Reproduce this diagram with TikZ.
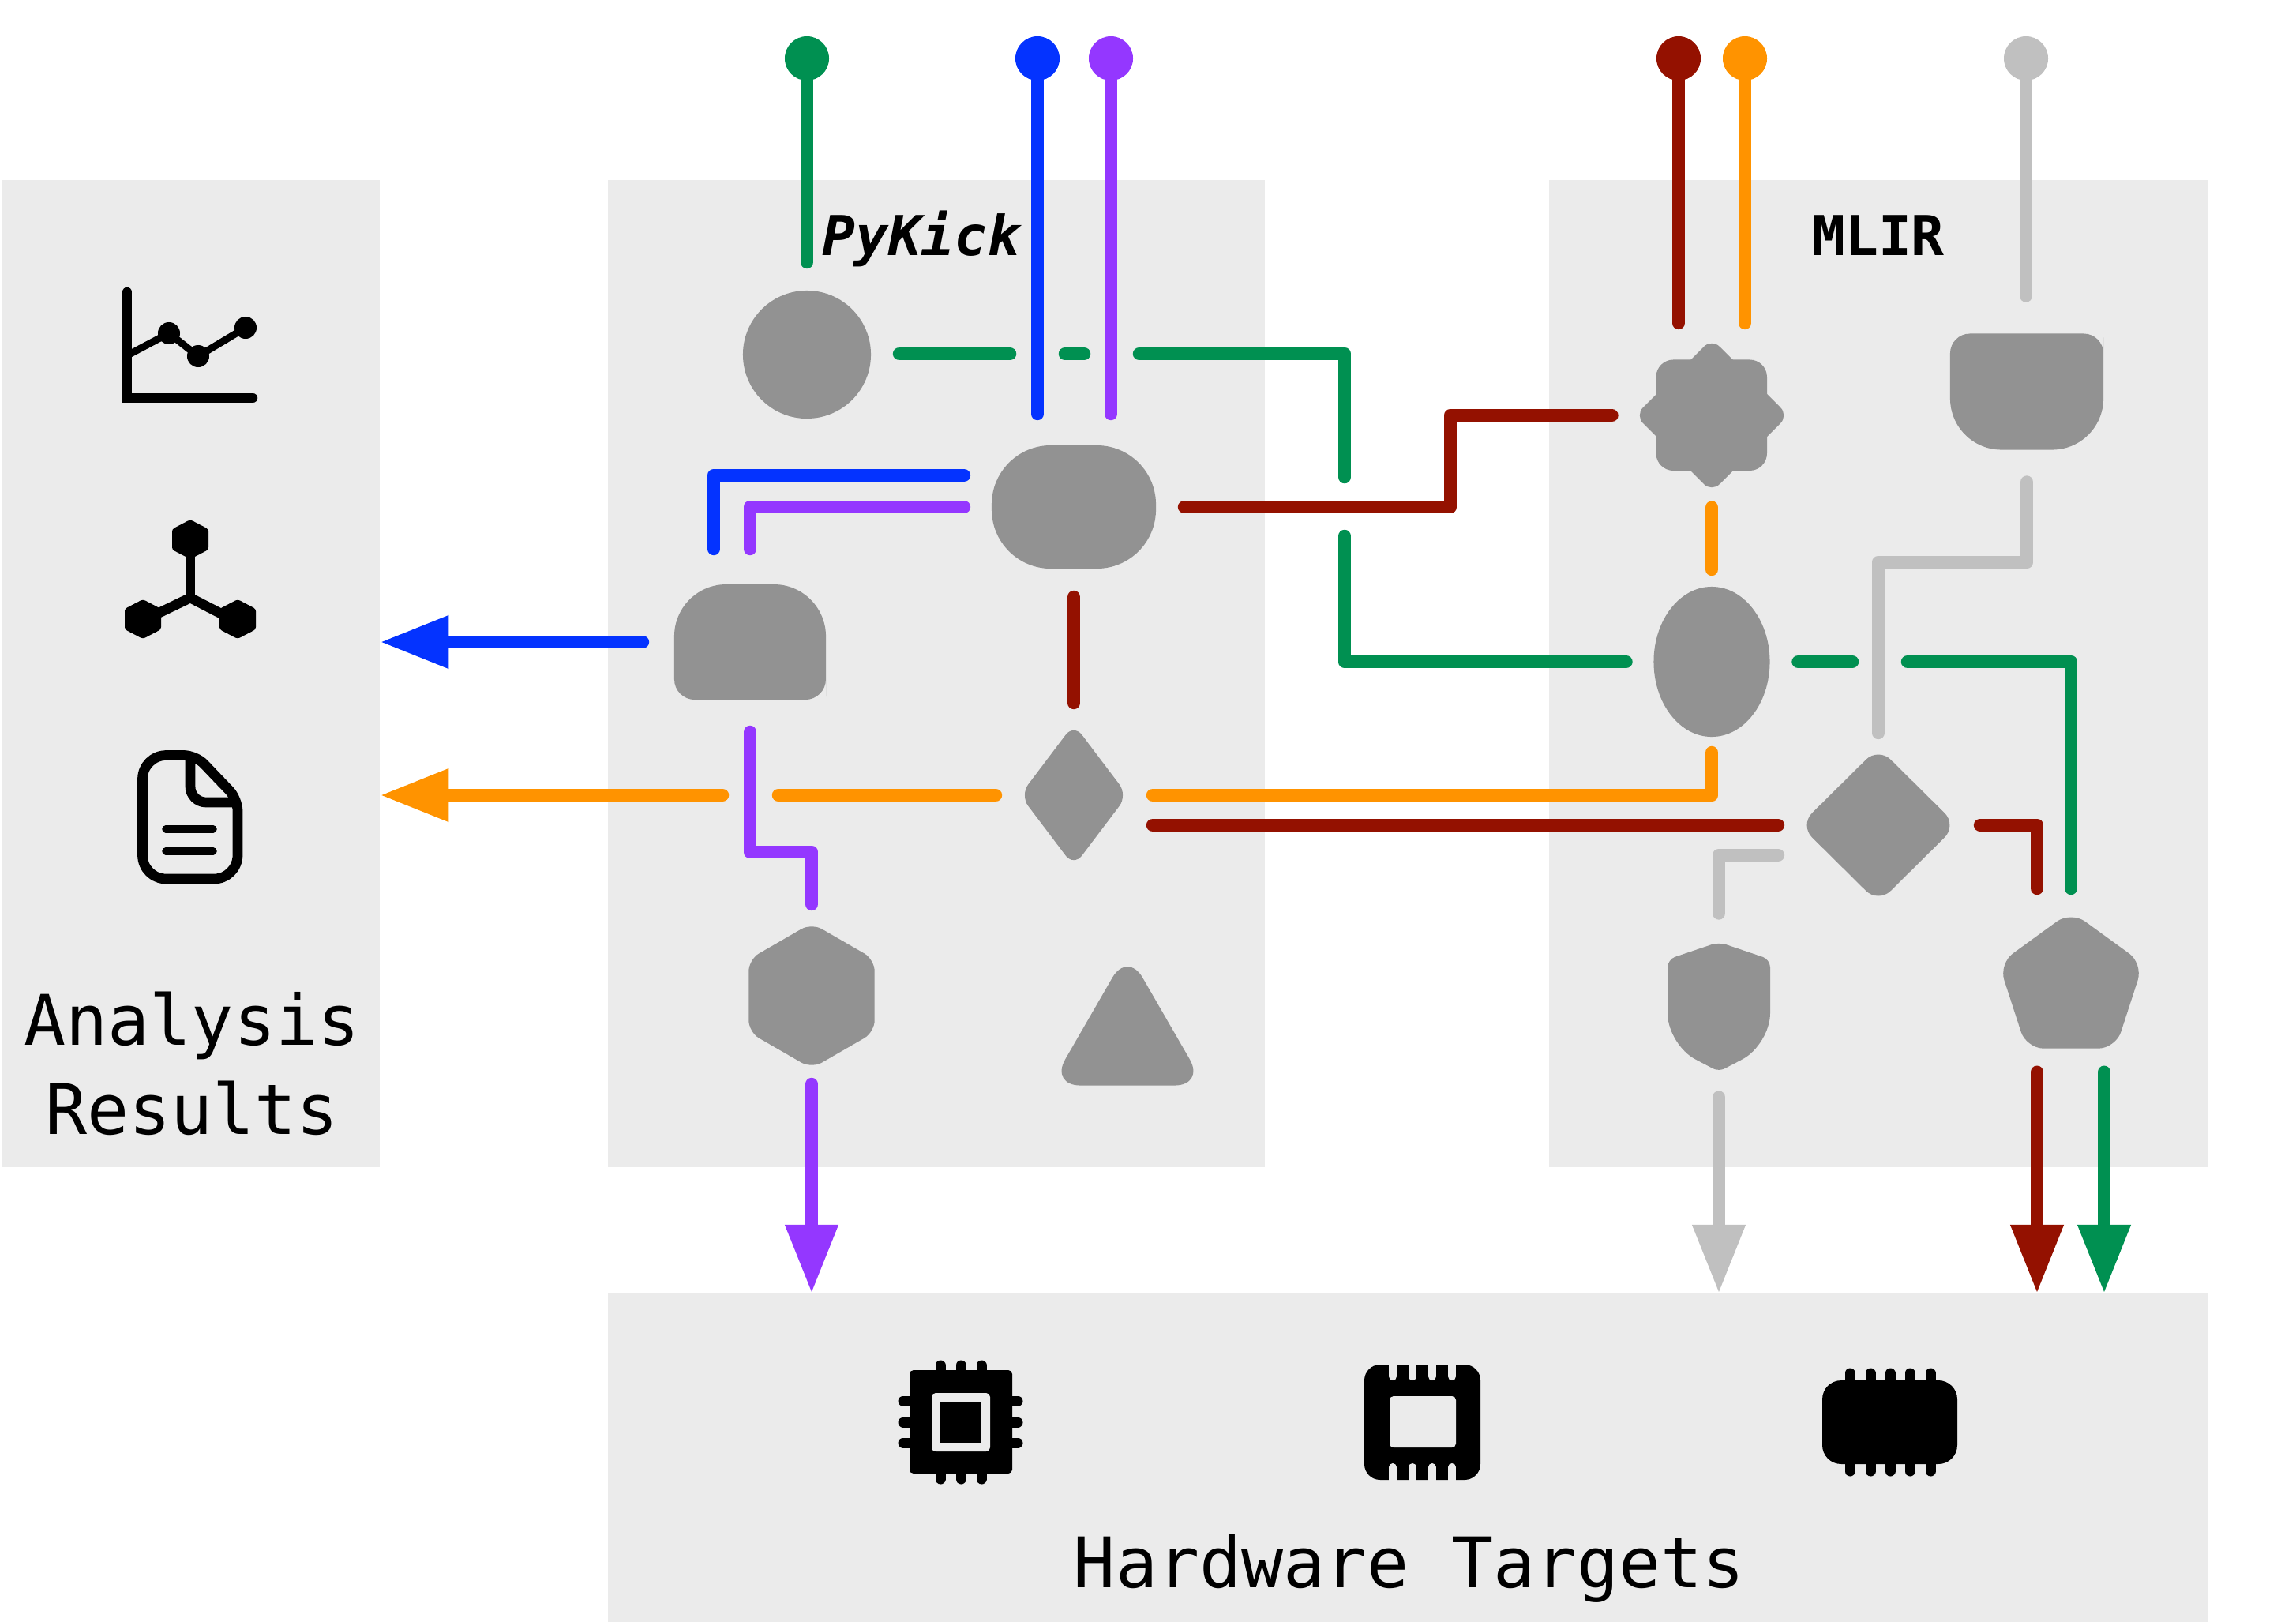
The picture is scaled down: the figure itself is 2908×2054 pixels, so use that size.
\documentclass[tikz,border=0pt]{standalone}
\usepackage{fontspec}
\setmonofont{DejaVu Sans Mono}
\usetikzlibrary{arrows.meta,shapes.geometric}

\definecolor{panelgray}{HTML}{EBEBEB}
\definecolor{opgray}{HTML}{929292}
\definecolor{wgreen}{HTML}{009051}
\definecolor{wblue}{HTML}{0433FF}
\definecolor{wpurple}{HTML}{9437FF}
\definecolor{wred}{HTML}{941100}
\definecolor{worange}{HTML}{FF9300}
\definecolor{wgray}{HTML}{C0C0C0}

\tikzset{
	panel/.style={fill=panelgray, inner sep=0, outer sep=0, anchor=north west},
	opshape/.style={fill=opgray, inner sep=0, outer sep=0},
	opbound/.style={inner sep=0, outer sep=0},
	pin/.style={circle, fill=#1, inner sep=0, outer sep=0, minimum size=.56cm},
	wire/.style={line width=.165cm, line cap=round, line join=round},
	tip/.style={-{Triangle[length=.87cm,width=.63cm]}},
	biglabel/.style={font=\fontsize{25.1}{32}\selectfont\ttfamily, anchor=base},
	toollabel/.style={font=\fontsize{19.8}{24}\selectfont\ttfamily\bfseries, anchor=base},
	icon/.style={black, line cap=round},
}

\begin{document}
\begin{tikzpicture}[x=.01cm, y=-.01cm]
	\useasboundingbox (0,0) rectangle (2908,2054);

	% Panels
	\node[panel, minimum width=4.79cm, minimum height=12.49cm] (analysis) at (2,228) {};
	\node[panel, minimum width=8.32cm, minimum height=12.49cm] (pykick) at (770,228) {};
	\node[panel, minimum width=8.33cm, minimum height=12.49cm] (mlir) at (1962,228) {};
	\node[panel, minimum width=20.25cm, minimum height=4.16cm] (hw) at (770,1638) {};

	\node[toollabel] (pykicklabel) at (1167,323) {\itshape PyKick};
	\node[toollabel] (mlirlabel) at (2379,323) {MLIR};
	\node[biglabel] (analysislabel) at (243,1323) {Analysis};
	\node[biglabel] (resultslabel) at (243,1436) {Results};
	\node[biglabel] (hwlabel) at (1785,2010) {Hardware Targets};

	% Operations of the left panel
	\node[opshape, circle, minimum size=1.62cm] (opcircle) at (1022,449) {};
	\node[opshape, rectangle, rounded corners=.75cm, minimum width=2.08cm, minimum height=1.56cm] (stadium) at (1360,642) {};
	\node[opbound, minimum width=1.92cm, minimum height=1.46cm] (lbox) at (950,813) {};
	\fill[opgray, rounded corners=.66cm] ([yshift=.3cm]lbox.south west) -- (lbox.north west) -- (lbox.north east)
		[rounded corners=.26cm] -- ([yshift=.3cm]lbox.south east) -- (lbox.south east) -- (lbox.south west) [sharp corners] -- cycle;
	\node[opshape, diamond, rounded corners=.17cm, minimum width=1.36cm, minimum height=1.8cm] (smalld) at (1360,1007) {};
	\node[opshape, regular polygon, regular polygon sides=6, regular polygon rotate=30, rounded corners=.15cm, minimum size=1.84cm] (hexop) at (1028,1261) {};
	\node[opshape, regular polygon, regular polygon sides=3, rounded corners=.38cm, minimum size=2.26cm] (triop) at (1428,1318) {};

	% Operations of the right panel
	\node[opbound, minimum size=1.81cm] (star) at (2168,526) {};
	\fill[opgray, rounded corners=.22cm] (star.north west) ++(20,20) rectangle (2238,596);
	\fill[opgray, rounded corners=.14cm, shift={(star.center)}] (0,-97) -- (97,0) -- (0,97) -- (-97,0) -- cycle;
	\node[opbound, minimum width=1.94cm, minimum height=1.47cm] (rbox) at (2567,496) {};
	\fill[opgray, rounded corners=.25cm] ([yshift=-.3cm]rbox.north west) -- (rbox.north west) -- (rbox.north east) -- ([yshift=-.3cm]rbox.north east)
		[rounded corners=.65cm] -- (rbox.south east) -- (rbox.south west) [sharp corners] -- cycle;
	\node[opshape, ellipse, minimum width=1.47cm, minimum height=1.9cm] (oval) at (2168,838) {};
	\node[opshape, diamond, rounded corners=.22cm, minimum width=1.99cm, minimum height=1.97cm] (bigd) at (2379,1045) {};
	\node[opbound, minimum width=1.3cm, minimum height=1.57cm] (shield) at (2177,1275) {};
	\fill[opgray, shift={(shield.center)}, rounded corners=.1cm] (0,-82) -- (65,-60) [rounded corners=.4cm] -- (65,48)
		[rounded corners=.08cm] -- (0,82) [rounded corners=.4cm] -- (-65,48) [rounded corners=.1cm] -- (-65,-60) -- cycle;
	\node[opshape, regular polygon, regular polygon sides=5, rounded corners=.22cm, minimum size=1.92cm] (pent) at (2623,1250) {};

	% Pins on top
	\node[pin=wgreen] (pingreen) at (1022,74) {};
	\node[pin=wblue] (pinblue) at (1314,74) {};
	\node[pin=wpurple] (pinpurple) at (1407,74) {};
	\node[pin=wred] (pinred) at (2126,74) {};
	\node[pin=worange] (pinorange) at (2210,74) {};
	\node[pin=wgray] (pingray) at (2566,74) {};

	% Bends and wire hops
	\coordinate (bluebend) at (904,602);
	\coordinate (redbend) at (1837,526);
	\coordinate (hopa) at (1279,448);
	\coordinate (hopb) at (1349,448);
	\coordinate (hopc) at (1373,448);
	\coordinate (hopd) at (1443,448);
	\coordinate (hope) at (1703,604);
	\coordinate (hopf) at (1703,679);
	\coordinate (hopg) at (2346,838);
	\coordinate (hoph) at (2416,838);
	\coordinate (hopi) at (986,1007);
	\coordinate (hopj) at (915,1007);
	\coordinate (graybendA) at (2379,712);
	\coordinate (graybendB) at (2177,1083);
	\coordinate (purplebend) at (1028,1079);
	\coordinate (pentred) at (2580,1350);
	\coordinate (pentgreen) at (2665,1350);

	% Green
	\draw[wire, wgreen, shorten >=.36cm] (pingreen) -- (opcircle);
	\draw[wire, wgreen, shorten <=.36cm] (opcircle.east |- hopa) -- (hopa);
	\draw[wire, wgreen] (hopb) -- (hopc);
	\draw[wire, wgreen] (hopd) -- (hopd -| hope) -- (hope);
	\draw[wire, wgreen, shorten >=.35cm] (hopf) -- (hopf |- oval.west) -- (oval.west);
	\draw[wire, wgreen, shorten <=.36cm] (oval.east) -- (hopg);
	\draw[wire, wgreen, shorten >=.29cm] (hoph) -- (hoph -| pent.north) -- (pent.north);
	\draw[wire, wgreen, tip, shorten <=.3cm] (pent.south -| pentgreen) -- (hw.north -| pentgreen);

	% Blue
	\draw[wire, wblue, shorten >=.4cm] (pinblue) -- (stadium.north -| pinblue);
	\draw[wire, wblue, shorten <=.35cm, shorten >=.45cm] (stadium.west |- bluebend) -- (bluebend) -- (lbox.north -| bluebend);
	\draw[wire, wblue, tip, shorten <=.4cm] (lbox.west) -- (analysis.east |- lbox.west);

	% Purple
	\draw[wire, wpurple, shorten >=.4cm] (pinpurple) -- (stadium.north -| pinpurple);
	\draw[wire, wpurple, shorten <=.35cm, shorten >=.45cm] (stadium.west) -- (stadium.west -| lbox.north) -- (lbox.north);
	\draw[wire, wpurple, shorten <=.41cm, shorten >=.24cm] (lbox.south) -- (lbox.south |- purplebend) -- (purplebend) -- (hexop.north);
	\draw[wire, wpurple, tip, shorten <=.2cm] (hexop.south) -- (hw.north -| hexop.south);

	% Dark red
	\draw[wire, wred, shorten >=.265cm] (pinred) -- (star.north -| pinred);
	\draw[wire, wred, shorten <=.36cm, shorten >=.36cm] (stadium.east) -- (stadium.east -| redbend) -- (redbend) -- (star.west);
	\draw[wire, wred, shorten <=.36cm, shorten >=.27cm] (stadium.south) -- (smalld.north);
	\draw[wire, wred, shorten <=.32cm, shorten >=.275cm] (smalld.east |- bigd.west) -- (bigd.west);
	\draw[wire, wred, shorten <=.295cm, shorten >=.29cm] (bigd.east) -- (bigd.east -| pentred) -- (pent.north -| pentred);
	\draw[wire, wred, tip, shorten <=.3cm] (pent.south -| pentred) -- (hw.north -| pentred);

	% Orange
	\draw[wire, worange, shorten >=.265cm] (pinorange) -- (star.north -| pinorange);
	\draw[wire, worange, shorten <=.26cm, shorten >=.22cm] (star.south) -- (oval.north);
	\draw[wire, worange, shorten <=.32cm, shorten >=.2cm] (smalld.east) -- (smalld.east -| oval.south) -- (oval.south);
	\draw[wire, worange, shorten <=.31cm] (smalld.west) -- (hopi);
	\draw[wire, worange, tip] (hopj) -- (analysis.east |- hopj);

	% Gray
	\draw[wire, wgray, shorten >=.48cm] (pingray) -- (rbox.north -| pingray);
	\draw[wire, wgray, shorten <=.41cm, shorten >=.185cm] (rbox.south) -- (rbox.south |- graybendA) -- (graybendA) -- (bigd.north);
	\draw[wire, wgray, shorten <=.275cm, shorten >=.4cm] (bigd.west |- graybendB) -- (graybendB) -- (shield.north);
	\draw[wire, wgray, tip, shorten <=.36cm] (shield.south) -- (hw.north -| shield.south);

	% Chart icon
	\draw[icon, line width=.125cm, line join=miter] (161,370) -- (161,504) -- (320,504);
	\draw[icon, line width=.09cm] (165,448) -- (214,422) -- (251,451) -- (311,415);
	\foreach \x/\y in {214/422, 251/451, 311/415} {
		\fill[black] (\x,\y) circle (.14cm);
	}

	% Network icon
	\draw[icon, line width=.127cm, line cap=butt] (241,700) -- (241,758);
	\draw[icon, line width=.125cm, line cap=butt, line join=round] (181,786) -- (241,757) -- (301,788);
	\foreach \x/\y in {241/683, 181/784, 301/784} {
		\fill[black, rounded corners=.03cm, shift={(\x,\y)}] (0,-25) -- (23,-13) -- (23,13) -- (0,25) -- (-23,13) -- (-23,-13) -- cycle;
	}

	% Document icon
	\draw[icon, line width=.127cm, rounded corners=.3cm] (180.5,1030) -- (180.5,956.5) [rounded corners=.15cm] -- (248,956.5) -- (301,1012)
		[rounded corners=.3cm] -- (301,1113) -- (180.5,1113) -- cycle;
	\draw[icon, line width=.127cm, line cap=butt, rounded corners=.2cm] (241,957) -- (241,1016) -- (300,1016);
	\draw[icon, line width=.095cm] (210,1050) -- (270,1050);
	\draw[icon, line width=.095cm] (210,1078) -- (270,1078);

	% CPU icon
	\foreach \x in {1191,1217,1243} {
		\draw[icon, line width=.13cm] (\x,1729) -- (\x,1745);
		\draw[icon, line width=.13cm] (\x,1873) -- (\x,1856);
	}
	\foreach \y in {1774,1801,1827} {
		\draw[icon, line width=.13cm] (1144,\y) -- (1160,\y);
		\draw[icon, line width=.13cm] (1289,\y) -- (1275,\y);
	}
	\fill[black, rounded corners=.05cm] (1152,1735) rectangle (1282,1866);
	\fill[panelgray, rounded corners=.05cm] (1180,1764) rectangle (1254,1838);
	\fill[black] (1191,1775) rectangle (1243,1827);

	% Memory icon
	\fill[black, rounded corners=.2cm] (1728,1728) rectangle (1875,1874);
	\foreach \x in {1764,1789,1814,1839} {
		\draw[panelgray, line width=.1cm, line cap=round] (\x,1722) -- (\x,1743);
		\draw[panelgray, line width=.1cm, line cap=round] (\x,1880) -- (\x,1858);
	}
	\fill[panelgray, rounded corners=.05cm] (1760,1768) rectangle (1844,1833);

	% Solid chip icon
	\foreach \x in {2343,2369,2394,2419,2445} {
		\draw[icon, line width=.13cm] (\x,1739) -- (\x,1755);
		\draw[icon, line width=.13cm] (\x,1863) -- (\x,1847);
	}
	\fill[black, rounded corners=.24cm] (2308,1748) rectangle (2479,1854);
\end{tikzpicture}
\end{document}
